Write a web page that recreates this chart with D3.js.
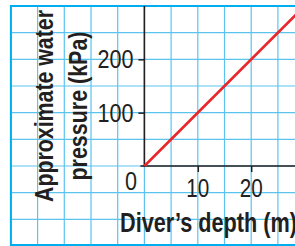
<!DOCTYPE html>
<html>
<head>
<meta charset="utf-8">
<script src="https://cdn.jsdelivr.net/npm/d3@7"></script>
<style>
  html, body { margin: 0; padding: 0; background: #fff; }
  svg { display: block; }
  text { font-family: "Liberation Sans", Arial, sans-serif; fill: #231f20; }
</style>
</head>
<body>
<div id="chart"></div>
<script>
// data
const depths = [0, 30];          // m
const pressures = [0, 300];      // kPa (about 10 kPa per metre)
const xTickValues = [10, 20];
const yTickValues = [100, 200];
const xTitle = "Diver\u2019s depth (m)";
const yTitle = ["Approximate water", "pressure (kPa)"];

// grid every 5 m and every 50 kPa
const gridX = d3.range(-25, 31, 5);
const gridY = d3.range(-150, 301, 50);

const width = 295;
const height = 246;

const x = d3.scaleLinear()
    .domain([-25, 30])
    .range([10.9, 304.6]);

const y = d3.scaleLinear()
    .domain([-150, 300])
    .range([246, 6]);

const svg = d3.select("#chart").append("svg")
    .attr("width", width)
    .attr("height", height)
    .attr("viewBox", [0, 0, width, height]);

// condensed look: squeeze each label to the width it has in the picture
const digitWidth = 12;

// background grid
svg.append("g")
    .attr("stroke", "#5cc3ee")
    .attr("stroke-width", 1.2)
  .selectAll("line")
  .data(gridX)
  .join("line")
    .attr("x1", d => x(d))
    .attr("x2", d => x(d))
    .attr("y1", y(300))
    .attr("y2", y(-150));

svg.append("g")
    .attr("stroke", "#5cc3ee")
    .attr("stroke-width", 1.2)
  .selectAll("line")
  .data(gridY)
  .join("line")
    .attr("x1", x(-25))
    .attr("x2", width)
    .attr("y1", d => y(d))
    .attr("y2", d => y(d));

// frame of the grid (left, top, bottom)
svg.append("path")
    .attr("fill", "none")
    .attr("stroke", "#00aeef")
    .attr("stroke-width", 2)
    .attr("d", `M${width},${y(300)}H${x(-25)}V${y(-150) - 1}H${width}`);

// axes
const axisColor = "#231f20";

const gx = svg.append("g")
    .attr("transform", `translate(0,${y(0)})`)
    .call(d3.axisBottom(x)
        .tickValues(xTickValues)
        .tickSize(6)
        .tickFormat(""))
    .call(g => g.select(".domain").remove());
gx.selectAll(".tick line").attr("stroke", axisColor).attr("stroke-width", 1.5);

const gy = svg.append("g")
    .attr("transform", `translate(${x(0)},0)`)
    .call(d3.axisLeft(y)
        .tickValues(yTickValues)
        .tickSize(6)
        .tickFormat(""))
    .call(g => g.select(".domain").remove());
gy.selectAll(".tick line").attr("stroke", axisColor).attr("stroke-width", 1.5);

svg.append("line")
    .attr("stroke", axisColor)
    .attr("stroke-width", 1.6)
    .attr("x1", x(0) - 4)
    .attr("x2", width)
    .attr("y1", y(0))
    .attr("y2", y(0));

svg.append("line")
    .attr("stroke", axisColor)
    .attr("stroke-width", 1.6)
    .attr("x1", x(0))
    .attr("x2", x(0))
    .attr("y1", y(0) + 1)
    .attr("y2", y(300));

// tick labels
svg.append("g")
  .selectAll("text")
  .data(xTickValues)
  .join("text")
    .attr("x", d => x(d))
    .attr("y", y(0) + 31)
    .attr("text-anchor", "middle")
    .attr("font-size", 25)
    .attr("textLength", d => String(d).length * digitWidth - 1)
    .attr("lengthAdjust", "spacingAndGlyphs")
    .text(d => d);

svg.append("g")
  .selectAll("text")
  .data(yTickValues)
  .join("text")
    .attr("x", x(0) - 11)
    .attr("y", d => y(d) + 9)
    .attr("text-anchor", "end")
    .attr("font-size", 25)
    .attr("textLength", d => String(d).length * digitWidth)
    .attr("lengthAdjust", "spacingAndGlyphs")
    .text(d => d);

svg.append("text")
    .attr("x", x(0) - 13.5)
    .attr("y", y(0) + 24)
    .attr("text-anchor", "middle")
    .attr("font-size", 25)
    .attr("textLength", digitWidth)
    .attr("lengthAdjust", "spacingAndGlyphs")
    .text("0");

// the line
const line = d3.line()
    .x((d, i) => x(depths[i]))
    .y(d => y(d));

svg.append("path")
    .datum(pressures)
    .attr("fill", "none")
    .attr("stroke", "#e8262c")
    .attr("stroke-width", 2.6)
    .attr("d", line);

// axis titles
svg.append("text")
    .attr("x", 120)
    .attr("y", 232)
    .attr("font-size", 27)
    .attr("font-weight", "bold")
    .attr("textLength", 177)
    .attr("lengthAdjust", "spacingAndGlyphs")
    .text(xTitle);

const yTitleLength = [192, 149];

svg.append("g")
    .attr("transform", "translate(0,106) rotate(-90)")
  .selectAll("text")
  .data(yTitle)
  .join("text")
    .attr("x", 0)
    .attr("y", (d, i) => 53 + i * 34)
    .attr("text-anchor", "middle")
    .attr("font-size", 26)
    .attr("font-weight", "bold")
    .attr("textLength", (d, i) => yTitleLength[i])
    .attr("lengthAdjust", "spacingAndGlyphs")
    .text(d => d);
</script>
</body>
</html>
